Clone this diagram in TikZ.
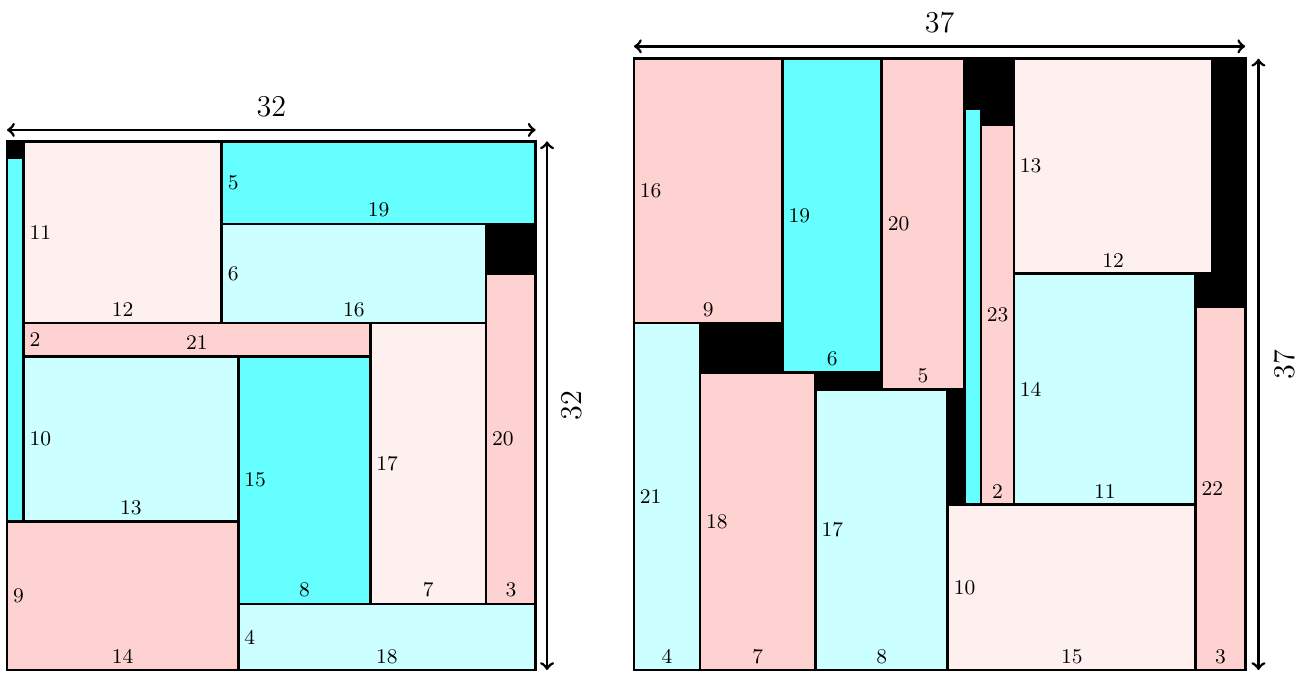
\documentclass[tikz,border=0pt]{standalone}
\usetikzlibrary{arrows}
\definecolor{pk}{HTML}{FFD2D2}
\definecolor{lpk}{HTML}{FFF0F0}
\definecolor{cy}{HTML}{66FFFF}
\definecolor{lcy}{HTML}{CCFFFF}
\tikzset{
  sq/.style={draw=black,line width=1.2pt},
  wl/.style={anchor=south,inner sep=2.6pt,font=\fontsize{9}{10}\selectfont},
  hl/.style={anchor=west,inner sep=2.4pt,font=\fontsize{9}{10}\selectfont},
  dimline/.style={line width=1.2pt,<->,>=to},
  dimlabel/.style={font=\fontsize{13}{15}\selectfont,inner sep=0pt}
}
\newcommand\rbox[7]{%
  \draw[sq,fill=#1] (#2,#3) rectangle (#4,#5);
  \node[wl] at ({(#2+#4)/2},#3) {#6};
  \node[hl] at (#2,{(#3+#5)/2}) {#7};
}
\begin{document}
\begin{tikzpicture}[x=0.25cm,y=0.25cm]
\useasboundingbox (-0.4237,-0.545) rectangle (78.63,40.557);
% ---------- left square 32 ----------
\begin{scope}
\fill[black] (0,0) rectangle (32,32);
\draw[sq,fill=cy] (0,9) rectangle (1,31);
\rbox{lpk}{1}{21}{13}{32}{12}{11}
\rbox{cy}{13}{27}{32}{32}{19}{5}
\rbox{lcy}{13}{21}{29}{27}{16}{6}
\rbox{pk}{29}{4}{32}{24}{3}{20}
\rbox{pk}{1}{19}{22}{21}{21}{2}
\rbox{lpk}{22}{4}{29}{21}{7}{17}
\rbox{lcy}{1}{9}{14}{19}{13}{10}
\rbox{cy}{14}{4}{22}{19}{8}{15}
\rbox{pk}{0}{0}{14}{9}{14}{9}
\rbox{lcy}{14}{0}{32}{4}{18}{4}
\draw[sq] (0,0) rectangle (32,32);
\coordinate (LA1) at (0,32.69);
\coordinate (LA2) at (32,32.69);
\coordinate (LB1) at (32.69,0);
\coordinate (LB2) at (32.69,32);
\draw[dimline] (LA1) -- (LA2);
\draw[dimline] (LB1) -- (LB2);
\node[dimlabel] (L32a) at (16,34.1) {32};
\node[dimlabel,rotate=90] (L32b) at (34.2,16) {32};
\end{scope}
% ---------- right square 37 ----------
\begin{scope}[shift={(37.95,0)}]
\fill[black] (0,0) rectangle (37,37);
\rbox{pk}{0}{21}{9}{37}{9}{16}
\rbox{cy}{9}{18}{15}{37}{6}{19}
\rbox{pk}{15}{17}{20}{37}{5}{20}
\draw[sq,fill=cy] (20,10) rectangle (21,34);
\rbox{pk}{21}{10}{23}{33}{2}{23}
\rbox{lpk}{23}{24}{35}{37}{12}{13}
\rbox{lcy}{23}{10}{34}{24}{11}{14}
\rbox{pk}{34}{0}{37}{22}{3}{22}
\rbox{lpk}{19}{0}{34}{10}{15}{10}
\rbox{pk}{4}{0}{11}{18}{7}{18}
\rbox{lcy}{0}{0}{4}{21}{4}{21}
\rbox{lcy}{11}{0}{19}{17}{8}{17}
\draw[sq] (0,0) rectangle (37,37);
\coordinate (RA1) at (0,37.75);
\coordinate (RA2) at (37,37.75);
\coordinate (RB1) at (37.8,0);
\coordinate (RB2) at (37.8,37);
\draw[dimline] (RA1) -- (RA2);
\draw[dimline] (RB1) -- (RB2);
\node[dimlabel] (R37a) at (18.5,39.2) {37};
\node[dimlabel,rotate=90] (R37b) at (39.4,18.5) {37};
\end{scope}
\end{tikzpicture}
\end{document}
